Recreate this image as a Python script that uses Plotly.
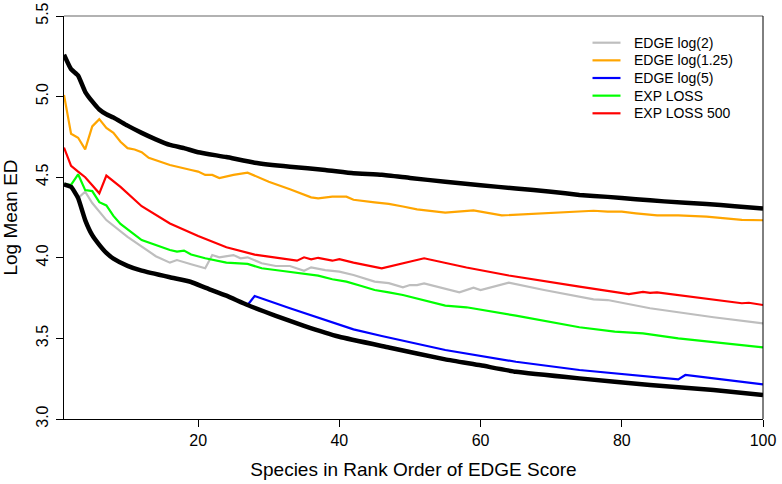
import plotly.graph_objects as go

# ---- data ----
upper_x = [1, 2, 3, 4, 5, 6, 7, 8, 10, 12, 14, 16, 18, 20, 24, 28, 33, 38, 42, 46, 50, 55, 60, 65, 70, 74, 78, 82, 86, 92, 96, 100]
upper_y = [5.26, 5.17, 5.13, 5.03, 4.97, 4.92, 4.89, 4.87, 4.82, 4.775, 4.735, 4.70, 4.68, 4.655, 4.625, 4.59, 4.565, 4.545, 4.525, 4.515, 4.495, 4.472, 4.45, 4.43, 4.41, 4.39, 4.378, 4.363, 4.35, 4.334, 4.32, 4.305]

lower_x = [1, 2, 3, 4, 5, 6, 7, 8, 10, 12, 16, 19, 21, 24, 27, 31, 35, 40, 47, 55, 60, 65, 74, 84, 93, 100]
lower_y = [4.456, 4.44, 4.37, 4.234, 4.14, 4.08, 4.03, 3.995, 3.95, 3.92, 3.879, 3.85, 3.815, 3.765, 3.707, 3.64, 3.578, 3.51, 3.444, 3.37, 3.333, 3.293, 3.252, 3.211, 3.18, 3.149]

log2_x = [1, 2, 3, 4, 5, 7, 10, 12, 14, 16, 17, 19, 21, 22, 23, 25, 26, 27, 29, 31, 33, 35, 36, 38, 40, 42, 45, 47, 49, 50, 51, 52, 57, 59, 60, 64, 69, 76, 78, 84, 93, 100]
log2_y = [4.456, 4.44, 4.37, 4.41, 4.34, 4.234, 4.13, 4.07, 4.01, 3.97, 3.986, 3.96, 3.935, 4.017, 4.003, 4.017, 3.997, 4.003, 3.966, 3.949, 3.949, 3.92, 3.941, 3.924, 3.914, 3.893, 3.852, 3.843, 3.817, 3.831, 3.831, 3.841, 3.786, 3.815, 3.80, 3.846, 3.80, 3.742, 3.738, 3.687, 3.631, 3.593]

log125_x = [1, 2, 3, 4, 5, 6, 7, 8, 9, 10, 11, 12, 13, 16, 19, 20, 21, 22, 23, 25, 27, 30, 33, 36, 37, 39, 41, 42, 45, 47, 49, 51, 55, 59, 63, 70, 76, 78, 80, 82, 85, 88, 92, 97, 100]
log125_y = [5.01, 4.77, 4.745, 4.673, 4.815, 4.86, 4.805, 4.775, 4.72, 4.68, 4.672, 4.655, 4.62, 4.576, 4.545, 4.535, 4.514, 4.514, 4.495, 4.514, 4.528, 4.472, 4.425, 4.375, 4.369, 4.379, 4.379, 4.36, 4.344, 4.335, 4.318, 4.30, 4.28, 4.294, 4.263, 4.28, 4.292, 4.286, 4.286, 4.276, 4.263, 4.263, 4.255, 4.235, 4.233]

log5_x = [27, 28, 33, 38, 42, 46, 55, 65, 74, 88, 89, 100]
log5_y = [3.707, 3.763, 3.687, 3.614, 3.556, 3.515, 3.428, 3.355, 3.304, 3.246, 3.273, 3.215]

exp_x = [1, 2, 3, 4, 5, 6, 7, 8, 9, 12, 16, 17, 18, 19, 21, 24, 27, 29, 32, 35, 37, 39, 41, 43, 45, 47, 49, 55, 58, 65, 74, 79, 83, 88, 100]
exp_y = [4.456, 4.452, 4.518, 4.42, 4.414, 4.345, 4.325, 4.26, 4.21, 4.11, 4.048, 4.038, 4.045, 4.02, 3.997, 3.97, 3.962, 3.935, 3.918, 3.90, 3.889, 3.867, 3.852, 3.827, 3.80, 3.786, 3.769, 3.703, 3.693, 3.641, 3.569, 3.542, 3.531, 3.50, 3.444]

exp500_x = [1, 2, 3, 4, 5, 6, 7, 8, 9, 12, 16, 20, 24, 28, 34, 35, 36, 37, 38, 39, 40, 42, 46, 52, 58, 64, 74, 81, 83, 84, 85, 97, 98, 100]
exp500_y = [4.684, 4.57, 4.534, 4.50, 4.45, 4.40, 4.51, 4.475, 4.44, 4.32, 4.213, 4.135, 4.065, 4.02, 3.982, 4.003, 3.99, 4.0, 3.99, 3.982, 3.992, 3.97, 3.935, 3.997, 3.94, 3.89, 3.821, 3.775, 3.788, 3.782, 3.786, 3.718, 3.721, 3.707]

y_ticks = [3.0, 3.5, 4.0, 4.5, 5.0, 5.5]
x_ticks = [20, 40, 60, 80, 100]

series_names = ["EDGE log(2)", "EDGE log(1.25)", "EDGE log(5)", "EXP LOSS", "EXP LOSS 500"]
series_x = [log2_x, log125_x, log5_x, exp_x, exp500_x]
series_y = [log2_y, log125_y, log5_y, exp_y, exp500_y]
series_colors = ["#BEBEBE", "#FFA500", "#0000FF", "#00FF00", "#FF0000"]

font = "Liberation Sans, Arial, Helvetica, sans-serif"

W, H = 782, 484
ML, MR, MT, MB = 64, 19, 16, 65
PW, PH = W - ML - MR, H - MT - MB

def px_to_paper(px, py):
    return (px - ML) / PW, (H - MB - py) / PH

fig = go.Figure()
for name, xs, ys, col in zip(series_names, series_x, series_y, series_colors):
    fig.add_trace(go.Scatter(x=xs, y=ys, mode="lines", name=name, showlegend=False,
                             line=dict(color=col, width=2.2)))
for xs, ys in [(upper_x, upper_y), (lower_x, lower_y)]:
    fig.add_trace(go.Scatter(x=xs, y=ys, mode="lines", showlegend=False,
                             line=dict(color="black", width=4.5, shape="spline", smoothing=0.4)))

# legend (drawn in the R style: no box, tight rows)
shapes = [
    dict(type="line", xref="paper", yref="paper", x0=0, x1=1, y0=1, y1=1,
         line=dict(color="#999999", width=1.5)),
    dict(type="line", xref="paper", yref="paper", x0=1, x1=1, y0=0, y1=1,
         line=dict(color="black", width=1)),
]
annotations = []
row0, row_step = 42.7, 17.65
for i, (name, col) in enumerate(zip(series_names, series_colors)):
    py = row0 + i * row_step
    x0, y0 = px_to_paper(592.5, py)
    x1, _ = px_to_paper(620.5, py)
    xt, _ = px_to_paper(631.5, py)
    shapes.append(dict(type="line", xref="paper", yref="paper", x0=x0, x1=x1,
                       y0=y0, y1=y0, line=dict(color=col, width=2.2)))
    annotations.append(dict(xref="paper", yref="paper", x=xt, y=y0, text=name,
                            showarrow=False, xanchor="left", yanchor="middle",
                            font=dict(size=14, family=font, color="black")))

fig.update_layout(
    width=W, height=H,
    margin=dict(l=ML, r=MR, t=MT, b=MB, autoexpand=False),
    plot_bgcolor="white", paper_bgcolor="white",
    font=dict(family=font, size=16, color="black"),
    showlegend=False,
    xaxis=dict(range=[1, 100], tickvals=x_ticks, ticks="outside", ticklen=7,
               tickcolor="black", showline=True, linecolor="black", linewidth=1,
               showgrid=False, zeroline=False, automargin=False,
               title=dict(text="Species in Rank Order of EDGE Score", standoff=14),
               tickfont=dict(size=16)),
    yaxis=dict(range=[3.0, 5.5], tickvals=y_ticks, tickformat=".1f", ticks="outside",
               ticklen=7, tickcolor="black", showline=True, linecolor="black",
               linewidth=1, showgrid=False, zeroline=False, tickangle=-90,
               automargin=False, ticklabelstandoff=2,
               title=dict(text="Log Mean ED", standoff=10),
               tickfont=dict(size=16)),
    shapes=shapes,
    annotations=annotations,
)
fig.write_html("out.html", config={"displayModeBar": False},
               post_script="document.body.style.margin='0';")
